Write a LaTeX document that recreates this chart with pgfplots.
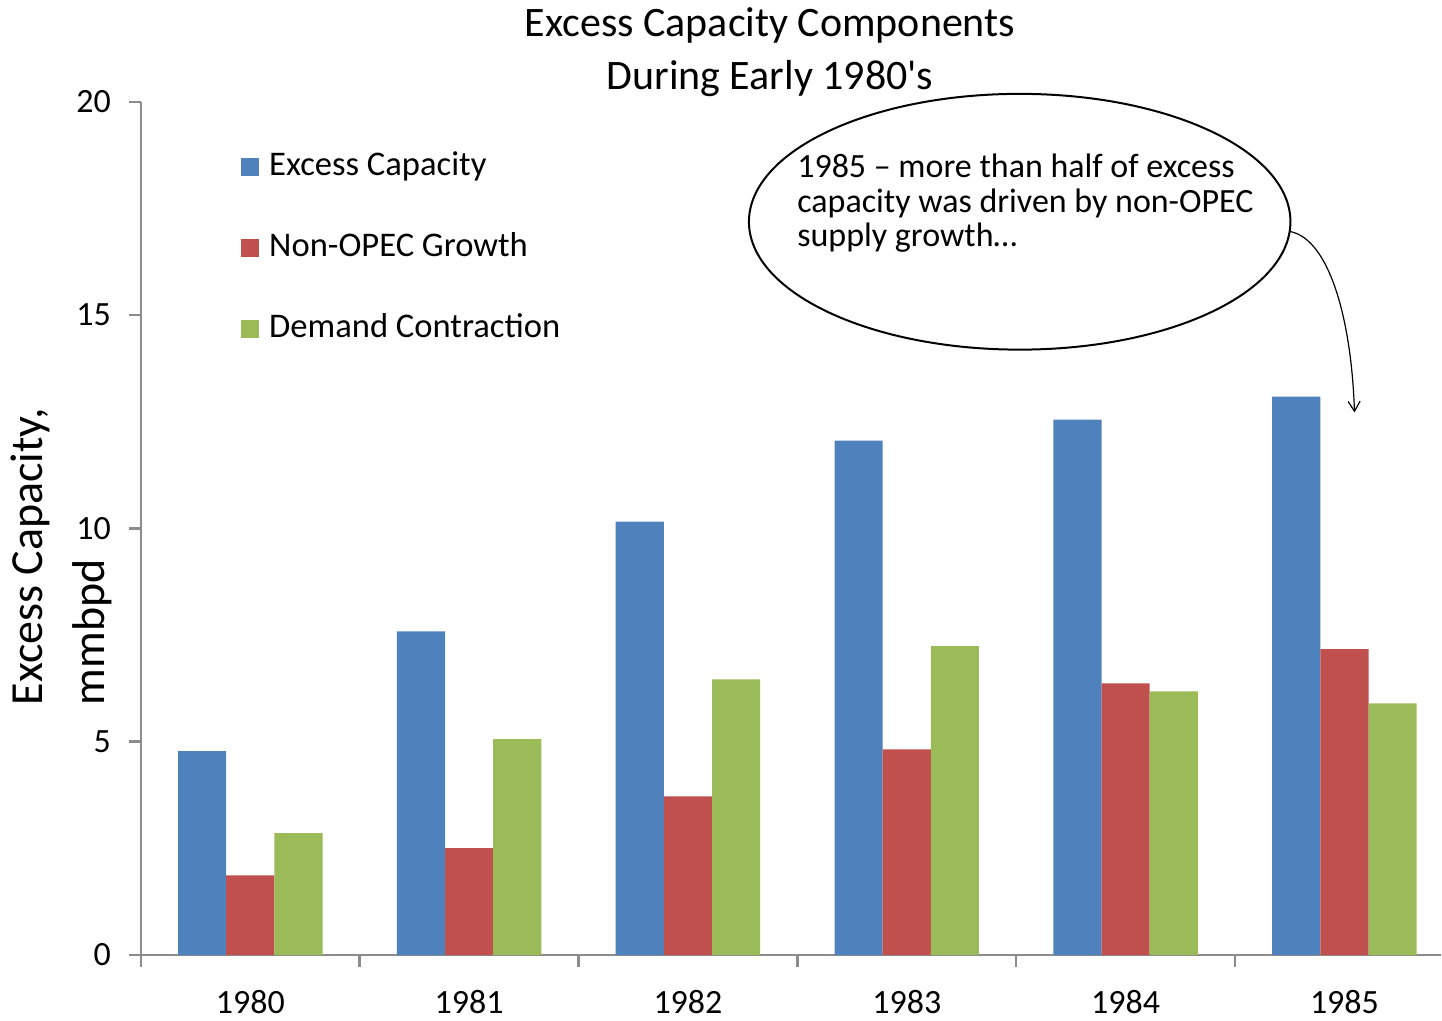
\documentclass[border=0pt]{standalone}
\usepackage{fontspec}
\setmainfont{Carlito}[Ligatures=TeXOff]
\usepackage{pgfplots}
\pgfplotsset{compat=1.18}
\usetikzlibrary{arrows.meta,shapes.geometric}

\definecolor{cblue}{HTML}{4F81BD}
\definecolor{cred}{HTML}{C0504D}
\definecolor{cgreen}{HTML}{9BBB59}
\definecolor{axgray}{HTML}{8C8C8C}

\pgfplotsset{
  sqleg/.style={legend image code/.code={\fill[##1] (0pt,-4.5pt) rectangle (9pt,4.5pt);}}
}

\begin{document}
\begin{tikzpicture}
\begin{axis}[
  scale only axis,
  width=650.5pt, height=427pt,
  xmin=-0.5, xmax=5.44,
  ymin=0, ymax=20,
  clip=false,
  axis lines*=left,
  axis line style={draw=axgray, line width=1.3pt},
  every tick/.style={draw=axgray, line width=1.3pt},
  tick align=outside,
  major tick length=6pt,
  ybar=0pt, bar width=0.22,
  ytick={0,5,10,15,20},
  xtick={0,1,2,3,4,5},
  xticklabels={1980,1981,1982,1983,1984,1985},
  x tick style={draw=none},
  extra x ticks={-0.5,0.5,1.5,2.5,3.5,4.5},
  extra x tick labels={},
  extra x tick style={x tick style={draw=axgray, line width=1.3pt}},
  ticklabel style={font=\fontsize{17}{19}\selectfont},
  /pgf/number format/assume math mode=true,
  yticklabel style={xshift=-5.5pt},
  xticklabel style={yshift=-8pt},
  title={Excess Capacity Components\\During Early 1980's},
  title style={align=center, font=\fontsize{21}{26.5}\selectfont,
    at={(rel axis cs:0.484,1.0)}, anchor=south, inner sep=0pt, yshift=-3.5pt},
  ylabel={Excess Capacity,\\mmbpd},
  ylabel style={align=left, font=\fontsize{23}{31}\selectfont,
    at={(axis description cs:-0.0615,0.467)}, anchor=center, rotate=0},
  legend style={draw=none, fill=none, at={(rel axis cs:0.0723,0.947)}, anchor=north west,
    font=\fontsize{17.3}{20}\selectfont, row sep=24.5pt,
    nodes={inner sep=0pt, text height=12pt, text depth=4pt},
    /tikz/every odd column/.style={column sep=5pt}},
  legend cell align=left,
]
\addplot[fill=cblue, draw=none, sqleg] coordinates {(0,4.78) (1,7.59) (2,10.16) (3,12.06) (4,12.55) (5,13.09)};
\addplot[fill=cred, draw=none, sqleg] coordinates {(0,1.87) (1,2.51) (2,3.72) (3,4.82) (4,6.37) (5,7.17)};
\addplot[fill=cgreen, draw=none, sqleg] coordinates {(0,2.86) (1,5.06) (2,6.46) (3,7.24) (4,6.18) (5,5.90)};
\legend{Excess Capacity, Non-OPEC Growth, Demand Contraction}

\node[draw=black, line width=1pt, ellipse, minimum width=271pt, minimum height=128pt]
  at (axis cs:3.516,17.19) {};
\node[anchor=north west, align=left, inner sep=0pt, font=\fontsize{17}{17.5}\selectfont]
  at (axis cs:2.498,18.8) {1985 – more than half of excess\\capacity was driven by non-OPEC\\supply growth…};
\draw[-{Straight Barb[length=5pt,width=6pt]}, line width=0.6pt]
  (axis cs:4.753,16.96) .. controls (axis cs:4.932,16.77) and (axis cs:5.032,14.89) .. (axis cs:5.046,12.72);

\path (rel axis cs:-0.1084,-0.0726) rectangle (rel axis cs:1,1.1194);
\end{axis}
\end{tikzpicture}
\end{document}
